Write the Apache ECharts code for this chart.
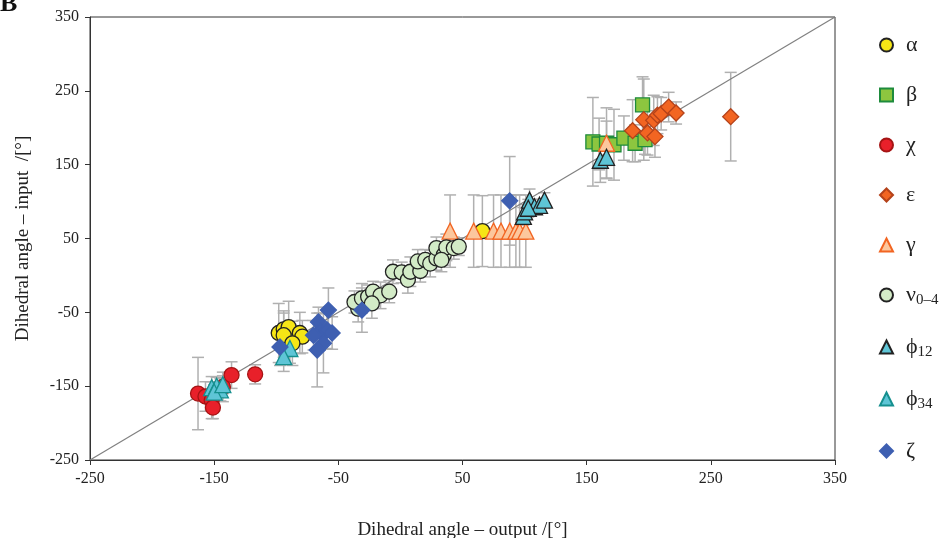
<!DOCTYPE html>
<html>
<head>
<meta charset="utf-8">
<script src="https://cdn.jsdelivr.net/npm/echarts@6/dist/echarts.min.js"></script>
<style>
html,body{margin:0;padding:0;background:#fff}
#chart{width:946px;height:538px}
</style>
</head>
<body>
<div id="chart"></div>
<script>
// [output, input] pairs, and the half length of the input error bar
let alpha=[[-98,-78],[-94,-73],[-90,-70],[-94,-81],[-81,-78],[-79,-83],[-87,-92],[66,60]]
let alphaErr=[40,25,35,30,28,22,30,48]

let beta=[[155,181],[160,178],[166,179],[172,177],[180,186],[189,179],[197,184],[195,231]]
let betaErr=[60,35,48,48,30,25,20,38]

let chi=[[-163,-160],[-157,-164],[-152,-169],[-151,-179],[-143,-151],[-136,-135],[-117,-134]]
let chiErr=[49,20,25,15,20,18,13]

let epsilon=[[187,196],[196,211],[199,193],[205,188],[204,210],[207,217],[210,219],[216,228],[222,220],[266,215]]
let epsilonErr=[42,55,30,28,34,25,22,20,15,60]

let gamma=[[40,60],[59,60],[75,60],[81,60],[88,60],[93,60],[96,60],[101,60],[166,179]]
let gammaErr=[49,49,49,49,49,49,49,49,30]

let nu=[[-34,-45],[-37,-36],[-31,-31],[-26,-29],[-22,-22],[-16,-27],[-9,-22],[-23,-38],[-6,5],[1,4],[6,-6],[8,5],[16,6],[14,19],[20,21],[24,16],[29,23],[29,37],[35,28],[37,38],[43,37],[47,39],[33,21]]
let nuErr=[18,15,20,16,14,18,15,20,16,14,18,20,15,16,14,18,16,15,14,18,15,12,16]

let phi12=[[99,80],[100,86],[104,102],[108,93],[112,95],[116,102],[103,91],[161,156],[166,160]]
let phi12Err=[12,10,15,10,8,10,12,30,28]

let phi34=[[-152,-152],[-148,-150],[-145,-155],[-150,-158],[-143,-148],[-89,-99],[-94,-110]]
let phi34Err=[15,12,15,10,12,20,20]

let zeta=[[-58,-47],[-66,-63],[-65,-76],[-70,-81],[-59,-74],[-55,-78],[-62,-92],[-67,-101],[-97,-97],[-31,-47],[88,101]]
let zetaErr=[30,20,25,20,25,22,40,50,25,30,60]

let diagonal=[-250,350]

let groups=[
	{name:'α',data:alpha,err:alphaErr,symbol:'circle',size:15,fill:'#f6e616',edge:'#222'},
	{name:'β',data:beta,err:betaErr,symbol:'rect',size:14,fill:'#8dc63f',edge:'#1e8b3c'},
	{name:'χ',data:chi,err:chiErr,symbol:'circle',size:15,fill:'#e8202a',edge:'#a51414'},
	{name:'ε',data:epsilon,err:epsilonErr,symbol:'diamond',size:16,fill:'#f26522',edge:'#b4421a'},
	{name:'γ',data:gamma,err:gammaErr,symbol:'triangle',size:16,fill:'#fcc79d',edge:'#f26522'},
	{name:'ν0–4',data:nu,err:nuErr,symbol:'circle',size:15,fill:'#d3ebc7',edge:'#222'},
	{name:'ϕ12',data:phi12,err:phi12Err,symbol:'triangle',size:16,fill:'#5ec5d6',edge:'#222'},
	{name:'ϕ34',data:phi34,err:phi34Err,symbol:'triangle',size:16,fill:'#5ec5d6',edge:'#16908f'},
	{name:'ζ',data:zeta,err:zetaErr,symbol:'diamond',size:16,fill:'#3e5fb1',edge:'#3e5fb1'}
]

let serif='"Liberation Serif","DejaVu Serif",serif'

// all error bars go into one custom series under the markers
let errData=[]
for(g of groups){
	g.data.forEach((p,i)=>errData.push([p[0],p[1],g.err[i]]))
}

function drawErr(params,api){
	let x=api.value(0),y=api.value(1),e=api.value(2)
	let a=api.coord([x,y+e]),b=api.coord([x,y-e])
	let hw=6
	let st={stroke:'#b0b0b0',lineWidth:1.5}
	return {type:'group',children:[
		{type:'line',shape:{x1:a[0],y1:a[1],x2:b[0],y2:b[1]},style:st},
		{type:'line',shape:{x1:a[0]-hw,y1:a[1],x2:a[0]+hw,y2:a[1]},style:st},
		{type:'line',shape:{x1:b[0]-hw,y1:b[1],x2:b[0]+hw,y2:b[1]},style:st}
	]}
}

let series=[{
	type:'custom',
	renderItem:drawErr,
	data:errData,
	z:1,
	silent:true
},{
	type:'line',
	data:[[diagonal[0],diagonal[0]],[diagonal[1],diagonal[1]]],
	showSymbol:false,
	lineStyle:{color:'#808080',width:1.2},
	z:1.5,
	silent:true
}]
for(g of groups){
	series.push({
		name:g.name,
		type:'scatter',
		data:g.data,
		symbol:g.symbol,
		symbolSize:g.size,
		itemStyle:{color:g.fill,borderColor:g.edge,borderWidth:1.3,opacity:1},
		z:2
	})
}

function legendText(name){
	if(name.length>1){
		return `{g|${name[0]}}{s|${name.slice(1)}}`
	}
	return `{g|${name}}`
}

let myChart=echarts.init(document.getElementById('chart'))
let option={
	animation:false,
	grid:{left:90,right:111,top:17,bottom:78,outerBoundsMode:'none',containLabel:false,show:true,borderColor:'#333',borderWidth:1},
	graphic:[{type:'text',left:0,top:-9,style:{text:'B',font:'bold 26px '+serif,fill:'#111'}}],
	legend:{
		orient:'vertical',
		left:879,
		top:34,
		padding:0,
		itemWidth:13,
		itemHeight:13,
		itemGap:28,
		data:groups.map(g=>g.name),
		formatter:legendText,
		textStyle:{
			padding:[0,0,0,8],
			rich:{
				g:{fontFamily:serif,fontSize:22,color:'#222',lineHeight:26},
				s:{fontFamily:serif,fontSize:15,color:'#222',lineHeight:4,verticalAlign:'bottom'}
			}
		}
	},
	xAxis:{
		type:'value',min:-250,max:350,interval:100,
		name:'Dihedral angle – output /[°]',nameLocation:'middle',nameGap:61,
		nameTextStyle:{fontFamily:serif,fontSize:19,color:'#222'},
		axisLine:{onZero:false,lineStyle:{color:'#333'}},
		axisTick:{show:true,length:5,lineStyle:{color:'#333'}},
		axisLabel:{fontFamily:serif,fontSize:16,color:'#222',margin:11},
		splitLine:{show:false}
	},
	yAxis:{
		type:'value',min:-250,max:350,interval:100,
		name:'Dihedral angle – input  /[°]',nameLocation:'middle',nameGap:57,
		nameTextStyle:{fontFamily:serif,fontSize:19,color:'#222'},
		axisLine:{show:true,onZero:false,lineStyle:{color:'#333'}},
		axisTick:{show:true,length:5,lineStyle:{color:'#333'}},
		axisLabel:{fontFamily:serif,fontSize:16,color:'#222',margin:11},
		splitLine:{show:false}
	},
	series:series
}
myChart.setOption(option)
</script>
</body>
</html>
